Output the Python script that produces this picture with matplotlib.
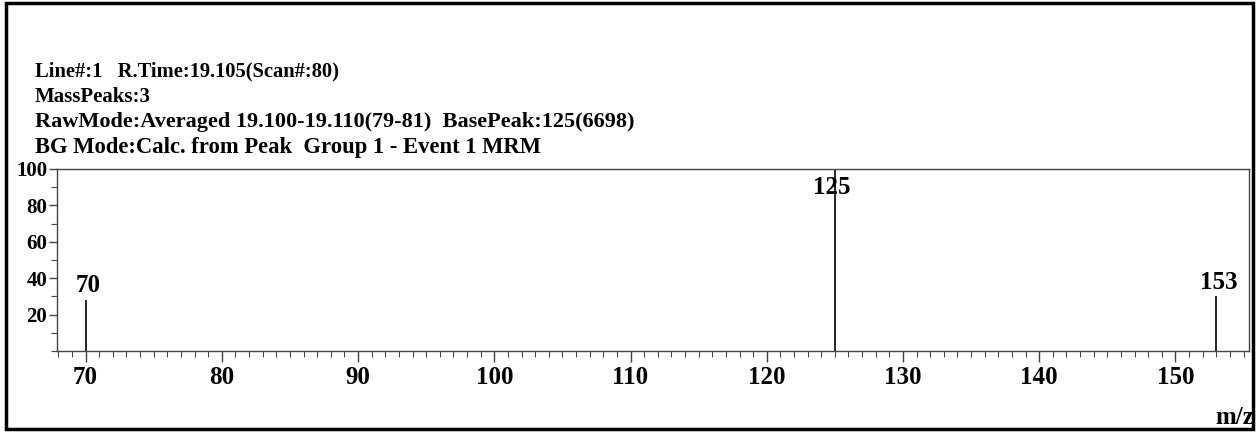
import matplotlib
matplotlib.use("Agg")
import matplotlib.pyplot as plt
from matplotlib.ticker import MultipleLocator, FixedLocator
from matplotlib.patches import Rectangle

# Data
mz = [70, 125, 153]
intensity = [28, 100, 30]
peak_labels = ["70", "125", "153"]
x_ticks = [70, 80, 90, 100, 110, 120, 130, 140, 150]
y_ticks = [20, 40, 60, 80, 100]
header_lines = [
    "Line#:1   R.Time:19.105(Scan#:80)",
    "MassPeaks:3",
    "RawMode:Averaged 19.100-19.110(79-81)  BasePeak:125(6698)",
    "BG Mode:Calc. from Peak  Group 1 - Event 1 MRM",
]

plt.rcParams['font.family'] = ['Liberation Serif', 'DejaVu Serif']
plt.rcParams['font.weight'] = 'bold'

fig = plt.figure(figsize=(12.57, 4.32), dpi=100)
ax = fig.add_axes([57/1257, 1-351/432, (1249-57)/1257, (351-169)/432])

ax.vlines(mz, 0, intensity, color='black', linewidth=1.2)
for x, y, lab in zip(mz, intensity, peak_labels):
    if y >= 100:
        ax.text(x - 0.2, 96, lab, ha='center', va='top', fontsize=18, fontweight='bold')
    else:
        ax.text(x + 0.15, y + 1.5, lab, ha='center', va='bottom', fontsize=18, fontweight='bold')

ax.set_xlim(67.9, 155.4)
ax.set_ylim(0, 100)
ax.xaxis.set_major_locator(FixedLocator(x_ticks))
ax.xaxis.set_minor_locator(MultipleLocator(1))
ax.yaxis.set_major_locator(FixedLocator(y_ticks))
ax.yaxis.set_minor_locator(MultipleLocator(10))

for s in ax.spines.values():
    s.set_color('#444444')
    s.set_linewidth(1.0)

ax.tick_params(axis='x', which='major', direction='out', length=8, width=1, color='#444444',
               labelsize=18, pad=3)
ax.tick_params(axis='x', which='minor', direction='out', length=4, width=0.8, color='#444444')
ax.tick_params(axis='y', which='major', direction='out', length=6, width=1, color='#444444',
               labelsize=15, pad=1)
ax.tick_params(axis='y', which='minor', direction='out', length=4, width=0.8, color='#444444')
for lab in ax.get_xticklabels() + ax.get_yticklabels():
    lab.set_fontweight('bold')

header_y = [71, 97, 122, 148]
header_sizes = [14.8, 15, 16, 16.3]
for txt, py, fs in zip(header_lines, header_y, header_sizes):
    fig.text(35/1257, 1 - py/432, txt, ha='left', va='center', fontsize=fs, fontweight='bold')

fig.text(1215/1257, 1 - 418/432, "m/z", ha='left', va='center', fontsize=18, fontweight='bold')

fig.patches.append(Rectangle((6/1257, 3/432), 1247/1257, 426/432, transform=fig.transFigure,
                             fill=False, edgecolor='black', linewidth=2.5))

fig.savefig("out.png", dpi=100)
